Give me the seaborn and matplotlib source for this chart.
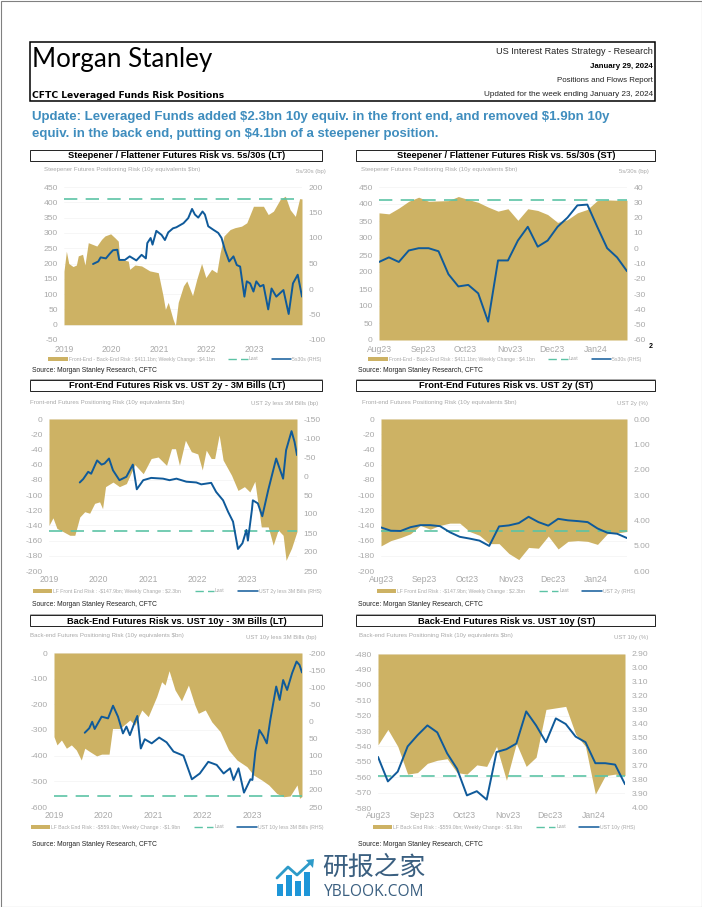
import matplotlib
matplotlib.use("Agg")
import numpy as np
import pandas as pd
import seaborn as sns
import matplotlib.pyplot as plt
from matplotlib.lines import Line2D
from matplotlib.patches import Patch, Rectangle, Polygon

W, H = 702, 907
GOLD = "#CDB264"
NAVY = "#0F5A9A"
TEAL = "#5CC3A5"
GREY = "#A9A9A9"
TITLE_BLUE = "#3F8DBE"

# long term charts, x in decimal years
steep_lt_x = [2019.0, 2019.05, 2019.10, 2019.19, 2019.26, 2019.30, 2019.39, 2019.44, 2019.51, 2019.69, 2019.79, 2019.86, 2019.98,
              2020.07, 2020.14, 2020.17, 2020.35, 2020.38, 2020.49, 2020.63, 2020.80, 2020.98, 2021.08, 2021.13, 2021.19, 2021.29,
              2021.34, 2021.40, 2021.51, 2021.58, 2021.70, 2021.79, 2021.89, 2021.98, 2022.10, 2022.21, 2022.28, 2022.36, 2022.49,
              2022.59, 2022.73, 2022.84, 2022.98, 2023.08, 2023.19, 2023.29, 2023.40, 2023.54, 2023.65, 2023.75, 2023.86, 2023.95, 2024.0]
steep_lt = [175, 240, 200, 190, 195, 225, 230, 195, 268, 257, 279, 290, 297, 284, 273, 214, 208, 181, 195, 192, 176, 170, 95, 50, 73, 18,
            -3, 73, 127, 143, 95, 149, 200, 154, 181, 170, 235, 290, 311, 317, 322, 333, 387, 387, 387, 360, 371, 409, 420, 376, 354, 412, 411]
curve_530_lt_x = [2019.61, 2019.72, 2019.77, 2019.88, 2019.96, 2020.03, 2020.12, 2020.16, 2020.28, 2020.38, 2020.52, 2020.63, 2020.72, 2020.75,
                  2020.82, 2020.86, 2020.94, 2021.05, 2021.12, 2021.19, 2021.29, 2021.36, 2021.51, 2021.61, 2021.69, 2021.75, 2021.82, 2021.91,
                  2021.96, 2022.03, 2022.14, 2022.24, 2022.31, 2022.38, 2022.47, 2022.56, 2022.63, 2022.70, 2022.79, 2022.84, 2022.91, 2022.98,
                  2023.04, 2023.12, 2023.19, 2023.29, 2023.36, 2023.46, 2023.54, 2023.61, 2023.72, 2023.81, 2023.91, 2024.0]
curve_530_lt = [49, 54, 62, 60, 69, 76, 77, 57, 57, 64, 56, 67, 60, 90, 100, 87, 114, 106, 96, 111, 119, 121, 129, 139, 157, 146, 140, 152,
                146, 123, 116, 110, 100, 77, 54, 64, 47, 44, -15, 15, 11, -5, 15, 5, 8, -40, 1, -15, -8, -2, -49, 11, 28, -15]

front_lt_x = [2019.0, 2019.08, 2019.16, 2019.28, 2019.42, 2019.52, 2019.62, 2019.72, 2019.82, 2019.92, 2020.02, 2020.08, 2020.14, 2020.29, 2020.42,
              2020.56, 2020.73, 2020.90, 2021.06, 2021.20, 2021.37, 2021.47, 2021.55, 2021.63, 2021.75, 2021.87, 2022.0, 2022.09, 2022.17, 2022.27,
              2022.34, 2022.43, 2022.51, 2022.68, 2022.81, 2022.94, 2023.05, 2023.15, 2023.28, 2023.42, 2023.52, 2023.62, 2023.72, 2023.78, 2023.89, 2024.0]
front_lt = [-140, -130, -144, -148, -153, -153, -129, -122, -124, -111, -109, -118, -89, -83, -89, -85, -60, -72, -52, -50, -61, -39, -39, -61, -28,
            -43, -46, -67, -41, -52, -52, -21, -54, -74, -94, -89, -96, -82, -142, -142, -166, -146, -153, -186, -170, -148]
spread_2y_x = [2019.62, 2019.69, 2019.79, 2019.85, 2019.97, 2020.06, 2020.12, 2020.21, 2020.29, 2020.42, 2020.56, 2020.69, 2020.77, 2020.90, 2021.06,
               2021.30, 2021.43, 2021.57, 2021.77, 2021.97, 2022.07, 2022.27, 2022.37, 2022.51, 2022.61, 2022.71, 2022.81, 2022.90, 2022.98, 2023.01,
               2023.09, 2023.11, 2023.21, 2023.30, 2023.42, 2023.58, 2023.72, 2023.78, 2023.89, 2023.95, 2024.0]
spread_2y = [17, 8, -11, -6, -41, -30, -33, -46, -15, 11, 2, -30, 35, 11, 5, 7, 11, 7, 15, 17, 22, 18, 42, 64, 94, 120, 192, 177, 142, 170, 90, 64,
             72, 106, 37, -46, 7, -68, -118, -90, -55]

back_lt_x = [2019.0, 2019.06, 2019.15, 2019.25, 2019.35, 2019.45, 2019.55, 2019.62, 2019.72, 2019.86, 2019.96, 2020.11, 2020.18, 2020.33, 2020.53, 2020.63,
             2020.77, 2020.90, 2021.07, 2021.17, 2021.24, 2021.32, 2021.44, 2021.57, 2021.71, 2021.84, 2021.91, 2022.05, 2022.18, 2022.35, 2022.52, 2022.69,
             2022.89, 2023.02, 2023.19, 2023.33, 2023.49, 2023.63, 2023.76, 2023.90, 2023.95, 2024.0]
back_lt = [-326, -358, -339, -371, -358, -378, -417, -371, -384, -401, -394, -394, -294, -294, -261, -281, -222, -248, -170, -112, -125, -69, -144,
           -186, -125, -203, -235, -222, -268, -306, -378, -417, -443, -475, -495, -514, -547, -560, -557, -514, -566, -559]
spread_10y_x = [2019.62, 2019.71, 2019.77, 2019.82, 2019.96, 2020.09, 2020.19, 2020.29, 2020.39, 2020.46, 2020.53, 2020.63, 2020.68, 2020.75, 2020.83,
                2020.97, 2021.12, 2021.27, 2021.41, 2021.61, 2021.78, 2021.94, 2022.11, 2022.28, 2022.42, 2022.55, 2022.62, 2022.72, 2022.83, 2022.96, 2023.0,
                2023.06, 2023.14, 2023.22, 2023.29, 2023.36, 2023.48, 2023.55, 2023.62, 2023.70, 2023.80, 2023.89, 2023.95, 2024.0]
spread_10y = [33, 20, 1, 22, -14, -9, -46, -14, 35, 15, 40, 1, -16, 79, 52, 64, 47, 61, 88, 100, 169, 152, 118, 127, 152, 137, 171, 137, 208, 169,
              171, 88, 25, 43, 64, -4, -102, -63, -121, -92, -141, -175, -165, -143]

# short term charts, 26 weeks up to Jan 23 2024
st_dates = pd.date_range("2023-08-01", periods=26, freq="7D")
steep_st = [374, 371, 388, 408, 420, 408, 409, 410, 422, 413, 405, 391, 379, 386, 352, 386, 381, 369, 346, 354, 374, 384, 410, 412, 411, 411]
curve_530_st = [-9, -6, -9, -1.5, 0, 0, -2, -17, -25, -24, -29.5, -48, -8, -8, 5, 14, 1, 5, 14, 20, 28, 28.5, 14, 0, -6, -15]
front_st = [-167, -160, -156, -151, -140, -145, -140, -137, -137, -148, -153, -164, -164, -177, -185, -169, -170, -154, -171, -161, -160, -161, -165,
            -151, -150, -148]
ust2y_st = [4.28, 4.41, 4.42, 4.27, 4.19, 4.19, 4.23, 4.47, 4.65, 4.72, 4.80, 5.01, 4.24, 4.20, 4.11, 3.86, 4.07, 4.21, 3.94, 4.0, 4.03, 4.07, 4.32,
            4.49, 4.53, 4.70]
back_st = [-539, -529, -540, -558, -557, -551, -549, -548, -557, -558, -552, -553, -540, -562, -538, -553, -547, -516, -515, -514, -532, -540, -571,
           -559, -558, -559]
ust10y_st = [3.635, 3.81, 3.74, 3.56, 3.48, 3.41, 3.46, 3.61, 3.72, 3.91, 3.88, 3.94, 3.60, 3.58, 3.54, 3.31, 3.41, 3.53, 3.36, 3.40, 3.49, 3.53,
             3.68, 3.68, 3.69, 3.83]

lt_years = [2019, 2020, 2021, 2022, 2023]
st_ticks = pd.to_datetime(["2023-08-01", "2023-09-01", "2023-10-01", "2023-11-01", "2023-12-01", "2024-01-01"])
st_labels = ["Aug23", "Sep23", "Oct23", "Nov23", "Dec23", "Jan24"]

sns.set_theme(style="white")
plt.rcParams["font.family"] = ["Liberation Sans", "DejaVu Sans"]
plt.rcParams["text.parse_math"] = False
plt.rcParams["axes.unicode_minus"] = False

fig = plt.figure(figsize=(W / 100, H / 100), dpi=100)


def fx(x):
    return x / W


def fy(y):
    return 1 - y / H


def ftext(x, y, s, **kw):
    kw.setdefault("va", "center")
    fig.text(fx(x), fy(y), s, **kw)


def frect(x0, y0, x1, y1, **kw):
    fig.add_artist(Rectangle((fx(x0), fy(y1)), (x1 - x0) / W, (y1 - y0) / H, transform=fig.transFigure, **kw))


def panel(box, band, title, sub, sub_x, rlabel, rlabel_x, legend_lab, line_lab, legend_x, source_x, y_sub,
          x_area, area, x_line, line, last, ylim, yticks, rlim, rticks, rfmt, base, xticks, xlabels, xlim, y_legend, y_source, y_xlab, hr):
    x0, y0, x1, y1 = box
    ax = fig.add_axes([fx(x0), fy(y1), (x1 - x0) / W, (y1 - y0) / H])
    ax.set_xlim(*xlim)
    ax.set_ylim(*ylim)
    ax.fill_between(x_area, area, base, color=GOLD, lw=0, zorder=2)
    ax.plot(xlim, [last, last], color=TEAL, lw=1.2, dashes=(8, 5), zorder=3)
    ax.set_yticks(yticks)
    ax.yaxis.grid(True, color="#F5F5F5", lw=0.6)
    ax.xaxis.grid(False)
    ax.set_axisbelow(True)
    ax.set_xticks(xticks)
    ax.set_xticklabels([])
    ax.tick_params(axis="both", length=0, labelsize=6.1, labelcolor=GREY)
    ax.tick_params(axis="y", pad=4.5)
    for s in ax.spines.values():
        s.set_visible(False)
    for t, lab in zip(xticks, xlabels):
        ax.annotate(lab, (t, 0), xycoords=("data", "axes fraction"), xytext=(0, -(y_xlab - y1)),
                    textcoords="offset pixels", ha="center", va="center", fontsize=6.2, color=GREY)

    rax = ax.twinx()
    sns.lineplot(x=x_line, y=line, ax=rax, color=NAVY, lw=1.4, estimator=None, sort=False, legend=False, zorder=5)
    rax.set_ylim(*rlim)
    rax.set_yticks(rticks)
    rax.set_yticklabels([rfmt.format(v) for v in rticks])
    rax.set_ylabel("")
    rax.grid(False)
    rax.tick_params(axis="y", length=0, labelsize=6.1, labelcolor=GREY, pad=4.5)
    for s in rax.spines.values():
        s.set_visible(False)

    # title band with grey shadow
    bx0, by0, bx1, by1 = band
    frect(bx0 + 1, by0 + 1, bx1 + 1, by1 + 1, color="#8C8C8C", lw=0)
    frect(bx0, by0, bx1, by1, facecolor="white", edgecolor="#222222", lw=0.7)
    ftext((bx0 + bx1) / 2 + 1, (by0 + by1) / 2 + 0.5, title, ha="center", fontsize=6.7, fontweight="bold", color="black")

    ftext(sub_x, y_sub, sub, ha="left", fontsize=4.45, color=GREY)
    ftext(rlabel_x, y_sub + 2, rlabel, ha="right", fontsize=4.3, color=GREY)

    handles = [Patch(color=GOLD, lw=0), Line2D([], [], color=TEAL, lw=1.0, dashes=(6, 3)), Line2D([], [], color=NAVY, lw=1.1)]
    fig.legend(handles, [legend_lab, "Last", line_lab], loc="center", bbox_to_anchor=(fx(legend_x), fy(y_legend)), ncol=3, frameon=False,
               fontsize=3.7, labelcolor=GREY, handlelength=3.8, handleheight=0.7, handletextpad=0.2, columnspacing=2.6)
    ftext(source_x, y_source, "Source: Morgan Stanley Research, CFTC", ha="left", fontsize=4.9, color="#222222")
    if hr:
        fig.add_artist(Line2D([fx(bx0), fx(bx1)], [fy(hr), fy(hr)], color="#9A9A9A", lw=0.6))


lt_lim = (2019, 2024)
st_lim = (st_dates[0], st_dates[-1])

panel((64, 187, 302, 340), (30, 150, 322, 161), "Steepener / Flattener Futures Risk vs. 5s/30s (LT)",
      "Steepener Futures Positioning Risk (10y equivalents $bn)", 44, "5s/30s (bp)", 326,
      "Front-End - Back-End Risk : $411.1bn; Weekly Change : $4.1bn", "5s30s (RHS)", 185, 32, 170,
      steep_lt_x, steep_lt, curve_530_lt_x, curve_530_lt, 411, (-50, 450), list(range(-50, 451, 50)), (-100, 200), list(range(-100, 201, 50)), "{:d}",
      0, lt_years, lt_years, lt_lim, 359, 370, 349, 379)

panel((379, 187, 627, 340), (356, 150, 655, 161), "Steepener / Flattener Futures Risk vs. 5s/30s (ST)",
      "Steepener Futures Positioning Risk (10y equivalents $bn)", 361, "5s/30s (bp)", 649,
      "Front-End - Back-End Risk : $411.1bn; Weekly Change : $4.1bn", "5s30s (RHS)", 505, 358, 170,
      st_dates, steep_st, st_dates, curve_530_st, 411, (0, 450), list(range(0, 451, 50)), (-60, 40), list(range(-60, 41, 10)), "{:d}",
      0, st_ticks, st_labels, st_lim, 359, 370, 349, 379)

panel((49, 419, 297, 571), (30, 380, 322, 391), "Front-End Futures Risk vs. UST 2y - 3M Bills (LT)",
      "Front-end Futures Positioning Risk (10y equivalents $bn)", 30, "UST 2y less 3M Bills (bp)", 318,
      "LF Front End Risk : -$147.9bn; Weekly Change : $2.3bn", "UST 2y less 3M Bills (RHS)", 177, 32, 402,
      front_lt_x, front_lt, spread_2y_x, spread_2y, -148, (-200, 0), list(range(-200, 1, 20)), (250, -150), list(range(-150, 251, 50)), "{:d}",
      0, lt_years, lt_years, lt_lim, 591, 604, 580, 614)

panel((381, 419, 627, 571), (356, 380, 655, 391), "Front-End Futures Risk vs. UST 2y (ST)",
      "Front-end Futures Positioning Risk (10y equivalents $bn)", 362, "UST 2y (%)", 648,
      "LF Front End Risk : -$147.9bn; Weekly Change : $2.3bn", "UST 2y (RHS)", 506, 358, 402,
      st_dates, front_st, st_dates, ust2y_st, -148, (-200, 0), list(range(-200, 1, 20)), (6, 0), [0, 1, 2, 3, 4, 5, 6], "{:.2f}",
      0, st_ticks, st_labels, st_lim, 591, 604, 580, 614)

panel((54, 653, 302, 807), (30, 615, 322, 626), "Back-End Futures Risk vs. UST 10y - 3M Bills (LT)",
      "Back-end Futures Positioning Risk (10y equivalents $bn)", 30, "UST 10y less 3M Bills (bp)", 316,
      "LF Back End Risk : -$559.0bn; Weekly Change : -$1.9bn", "UST 10y less 3M Bills (RHS)", 177, 32, 636,
      back_lt_x, back_lt, spread_10y_x, spread_10y, -559, (-600, 0), list(range(-600, 1, 100)), (250, -200), list(range(-200, 251, 50)), "{:d}",
      0, lt_years, lt_years, lt_lim, 827, 844, 816, None)

panel((378, 654, 625, 808), (356, 615, 655, 626), "Back-End Futures Risk vs. UST 10y (ST)",
      "Back-end Futures Positioning Risk (10y equivalents $bn)", 359, "UST 10y (%)", 648,
      "LF Back End Risk : -$559.0bn; Weekly Change : -$1.9bn", "UST 10y (RHS)", 504, 358, 636,
      st_dates, back_st, st_dates, ust10y_st, -559, (-580, -480), list(range(-580, -479, 10)),
      (4.0, 2.9), [2.9, 3.0, 3.1, 3.2, 3.3, 3.4, 3.5, 3.6, 3.7, 3.8, 3.9, 4.0], "{:.2f}",
      -480, st_ticks, st_labels, st_lim, 827, 844, 816, None)

# header box
frect(30, 42, 655, 101, facecolor="none", edgecolor="black", lw=1.1)
ftext(32, 59, "Morgan Stanley", ha="left", fontsize=18.7, family="Lato", color="black")
ftext(32, 95, "CFTC Leveraged Funds Risk Positions", ha="left", fontsize=6.6, family="DejaVu Sans", fontweight="bold", color="black")
ftext(653, 52, "US Interest Rates Strategy - Research", ha="right", fontsize=6.6, color="#222222")
ftext(653, 67, "January 29, 2024", ha="right", fontsize=5.7, fontweight="bold", color="black")
ftext(653, 81, "Positions and Flows Report", ha="right", fontsize=5.7, color="#222222")
ftext(653, 94, "Updated for the week ending January 23, 2024", ha="right", fontsize=5.85, color="#222222")

ftext(32, 117, "Update: Leveraged Funds added $2.3bn 10y equiv. in the front end, and removed $1.9bn 10y", ha="left",
      fontsize=9.5, fontweight="bold", color=TITLE_BLUE)
ftext(32, 133.5, "equiv. in the back end, putting on $4.1bn of a steepener position.", ha="left",
      fontsize=9.5, fontweight="bold", color=TITLE_BLUE)
ftext(651, 347, "2", ha="center", fontsize=5, fontweight="bold", color="black")

# watermark
for bx0, bx1, by0 in [(277, 283, 884), (286, 292, 875), (295, 301, 881), (304, 310, 872)]:
    frect(bx0, by0, bx1, 896, color="#1E96D8", lw=0)
fig.add_artist(Line2D([fx(x) for x in (277, 288, 297, 311)], [fy(y) for y in (878, 867, 875, 862)], color="#2E9BC9", lw=2))
fig.add_artist(Polygon([(fx(306), fy(860)), (fx(314), fy(859)), (fx(313), fy(868))], transform=fig.transFigure, color="#2E9BC9", lw=0))
ftext(322, 867.5, "研报之家", ha="left", fontsize=18.6, family=["Noto Sans CJK SC", "DejaVu Sans"], color="#3A5F80")
ftext(324, 891.5, "YBLOOK.COM", ha="left", fontsize=11.2, family="Open Sans", color="#3A5F80")

# thin page border
frect(0.5, 0.5, W - 0.5, H - 0.5, facecolor="none", edgecolor="#808080", lw=0.8)

fig.savefig("out.png", dpi=100)
